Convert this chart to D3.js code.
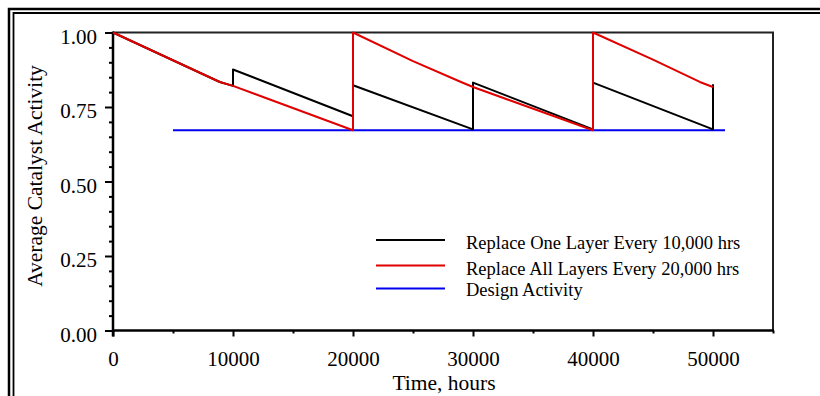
<!DOCTYPE html>
<html>
<head>
<meta charset="utf-8">
<script src="https://cdn.jsdelivr.net/npm/d3@7"></script>
<style>
  html, body { margin: 0; padding: 0; background: #fff; }
  svg { display: block; }
  text { font-family: "Liberation Serif", "Times New Roman", serif; fill: #000; }
</style>
</head>
<body>
<svg id="chart" width="820" height="396"></svg>
<script>
// Catalyst activity over time for two replacement strategies
const oneLayerHours  = [0, 8900, 10000, 10000, 20000, 20000, 30000, 30000, 40000, 40000, 50000, 50000];
const oneLayerValues = [1.00, 0.834, 0.821, 0.876, 0.719, 0.823, 0.675, 0.832, 0.675, 0.832, 0.675, 0.826];

const allLayersHours  = [0, 8900, 10000, 20000, 20000, 25000, 29000, 30000, 40000, 40000, 45000, 48900, 50000];
const allLayersValues = [1.00, 0.834, 0.821, 0.672, 1.00, 0.904, 0.834, 0.817, 0.672, 1.00, 0.909, 0.834, 0.817];

const designHours  = [5000, 51000];
const designValues = [0.672, 0.672];

const xMajorTicks = [0, 10000, 20000, 30000, 40000, 50000];
const xMinorTicks = [5000, 15000, 25000, 35000, 45000, 55000];
const yMajorTicks = [0, 0.25, 0.5, 0.75, 1.0];
const yMinorTicks = [0.05, 0.1, 0.15, 0.2, 0.3, 0.35, 0.4, 0.45, 0.55, 0.6, 0.65, 0.7, 0.8, 0.85, 0.9, 0.95];

const legendLabels = [
  "Replace One Layer Every 10,000 hrs",
  "Replace All Layers Every 20,000 hrs",
  "Design Activity"
];
const seriesColors = ["#000000", "#e00000", "#0000ee"];

const svg = d3.select("#chart");

// outer double frame (top and left edges)
const frame = svg.append("g").attr("fill", "none").attr("stroke", "#000");
frame.append("path").attr("d", "M9,396 V9 H820").attr("stroke-width", 2.5);
frame.append("path").attr("d", "M13.5,396 V13 H820").attr("stroke-width", 1.8);

const x = d3.scaleLinear().domain([0, 55000]).range([113, 773]);
const y = d3.scaleLinear().domain([0, 1]).range([330.5, 32.5]);

// plot box (top and right)
svg.append("path")
  .attr("d", `M${x(0)},${y(1)} H${x(55000)} V${y(0)}`)
  .attr("fill", "none")
  .attr("stroke", "#222")
  .attr("stroke-width", 2);

// x axis
const xAxisG = svg.append("g").attr("transform", `translate(0,${y(0)})`);
xAxisG.append("g")
  .call(d3.axisBottom(x).tickValues(xMinorTicks).tickSize(3).tickFormat(""))
  .call(g => g.select(".domain").remove());
xAxisG.append("g")
  .call(d3.axisBottom(x).tickValues(xMajorTicks).tickSize(6).tickPadding(15).tickFormat(d3.format("d")))
  .call(g => g.select(".domain").remove())
  .call(g => g.selectAll("text").attr("font-size", 21).attr("font-family", "Liberation Serif, serif"));
xAxisG.append("line")
  .attr("x1", x(0) - 1).attr("x2", x(55000) + 1)
  .attr("stroke", "#000").attr("stroke-width", 2.5);
xAxisG.selectAll(".tick line").attr("stroke-width", 2);

// y axis
const yAxisG = svg.append("g").attr("transform", `translate(${x(0)},0)`);
yAxisG.append("g")
  .call(d3.axisLeft(y).tickValues(yMinorTicks).tickSize(4).tickFormat(""))
  .call(g => g.select(".domain").remove());
yAxisG.append("g")
  .call(d3.axisLeft(y).tickValues(yMajorTicks).tickSize(8).tickPadding(8).tickFormat(d3.format(".2f")))
  .call(g => g.select(".domain").remove())
  .call(g => g.selectAll("text").attr("font-size", 21).attr("dy", "0.5em").attr("font-family", "Liberation Serif, serif"));
yAxisG.append("line")
  .attr("y1", y(1) - 1).attr("y2", y(0) + 6)
  .attr("stroke", "#000").attr("stroke-width", 2.5);
yAxisG.selectAll(".tick line").attr("stroke-width", 2);

// axis titles
svg.append("text")
  .attr("x", (x(0) + x(55000)) / 2 + 1)
  .attr("y", 390)
  .attr("text-anchor", "middle")
  .attr("font-size", 21.5)
  .text("Time, hours");

svg.append("text")
  .attr("transform", `translate(42,176) rotate(-90)`)
  .attr("text-anchor", "middle")
  .attr("font-size", 21.5)
  .text("Average Catalyst Activity");

// series
const line = d3.line().x(d => x(d[0])).y(d => y(d[1]));
const series = [
  { hours: designHours, values: designValues, color: seriesColors[2] },
  { hours: oneLayerHours, values: oneLayerValues, color: seriesColors[0] },
  { hours: allLayersHours, values: allLayersValues, color: seriesColors[1] }
];
series.forEach(s => {
  svg.append("path")
    .datum(s.hours.map((h, i) => [h, s.values[i]]))
    .attr("d", line)
    .attr("fill", "none")
    .attr("stroke", s.color)
    .attr("stroke-width", 2)
    .attr("stroke-linejoin", "round");
});

// legend
const legendLineY = [240, 265.5, 288.5];
const legendTextY = [249, 275, 296];
const legend = svg.append("g");
legendLabels.forEach((label, i) => {
  legend.append("line")
    .attr("x1", 376).attr("x2", 445)
    .attr("y1", legendLineY[i]).attr("y2", legendLineY[i])
    .attr("stroke", seriesColors[i])
    .attr("stroke-width", 2);
  legend.append("text")
    .attr("x", 466)
    .attr("y", legendTextY[i])
    .attr("font-size", 18.5)
    .text(label);
});
</script>
</body>
</html>
